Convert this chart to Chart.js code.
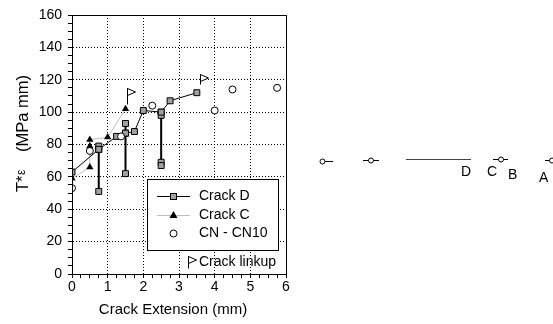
<!DOCTYPE html>
<html><head><meta charset="utf-8">
<script src="https://cdn.jsdelivr.net/npm/chart.js@4.4.0/dist/chart.umd.min.js"></script>
<style>html,body{margin:0;padding:0;background:#fff;overflow:hidden}#wrap{width:553px;height:324px;position:relative}</style>
</head><body><div id="wrap"><canvas id="c"></canvas></div>
<script>
// ---- data ----
const crackDX = [0, 0.75, 0.75, 0.75, 0.75, 1.25, 1.5, 1.5, 1.5, 1.5, 1.75, 2, 2.5, 2.5, 2.5, 2.5, 2.5, 2.75, 3.5];
const crackDY = [63, 77, 79, 51, 77, 85, 87, 93, 62, 87, 88, 101, 100, 98, 69, 67, 100, 107, 112];
const crackCX = [0, 0.5, 0.5, 0.5, 1, 1.5];
const crackCY = [59, 66, 79, 83, 84.5, 102];
const cnX = [0, 0.5, 1.375, 2.25, 4, 4.5, 5.75];
const cnY = [53, 76, 85, 104, 101, 114, 115];
const linkupX = [1.53, 3.58];
const linkupBottom = [105, 117.5];
const linkupTop = [115, 123.5];
const xMin = 0, xMax = 6, xStep = 0.25, xMajor = 1;
const yMin = 0, yMax = 160, yStep = 5, yMajor = 20;
const legendLabels = ['Crack D', 'Crack C', 'CN - CN10', 'Crack linkup'];
const xTitle = 'Crack Extension (mm)';
const yTitleParts = ['T', '*', 'ε', '(MPa mm)'];

const FONT = '"Liberation Sans", Arial, sans-serif';
const pts = (xs, ys) => xs.map((x, i) => ({x, y: ys[i]}));
const isMajor = (v, m) => Math.abs(v / m - Math.round(v / m)) < 1e-6;

function drawFlag(ctx, px, yTop, yBottom) {
  const x = Math.round(px) + 0.5, t = Math.round(yTop) + 0.5, b = Math.round(yBottom) + 0.5;
  ctx.fillStyle = '#fff'; ctx.strokeStyle = '#000'; ctx.lineWidth = 1;
  ctx.beginPath(); ctx.moveTo(x, t); ctx.lineTo(x + 8, t + 3.5); ctx.lineTo(x, t + 7); ctx.closePath(); ctx.fill(); ctx.stroke();
  ctx.beginPath(); ctx.moveTo(x, t); ctx.lineTo(x, b); ctx.stroke();
}

const deco = {
  id: 'deco',
  afterDatasetsDraw(chart) {
    const {ctx, scales: {x, y}} = chart;
    ctx.save();
    linkupX.forEach((v, i) => drawFlag(ctx, x.getPixelForValue(v), y.getPixelForValue(linkupTop[i]), y.getPixelForValue(linkupBottom[i])));
    ctx.restore();
  },
  afterDraw(chart) {
    const {ctx, chartArea: a} = chart;
    ctx.save();
    // frame
    ctx.strokeStyle = '#000'; ctx.lineWidth = 1;
    ctx.strokeRect(Math.round(a.left) + 0.5, Math.round(a.top) + 0.5, Math.round(a.right - a.left), Math.round(a.bottom - a.top));
    // legend box
    ctx.fillStyle = '#fff';
    ctx.fillRect(148, 179, 131, 71);
    ctx.strokeRect(147.5, 179.5, 131, 71);
    ctx.font = '14px ' + FONT; ctx.fillStyle = '#000'; ctx.textBaseline = 'middle'; ctx.textAlign = 'left';
    ctx.beginPath(); ctx.moveTo(157, 196.5); ctx.lineTo(190, 196.5); ctx.strokeStyle = '#000'; ctx.stroke();
    ctx.fillStyle = '#a0a0a0'; ctx.fillRect(170.5, 193.5, 6, 6); ctx.strokeRect(170.5, 193.5, 6, 6);
    ctx.fillStyle = '#000'; ctx.fillText(legendLabels[0], 199, 196);
    ctx.beginPath(); ctx.moveTo(157, 215.5); ctx.lineTo(190, 215.5); ctx.strokeStyle = '#c0c0c0'; ctx.stroke();
    ctx.fillStyle = '#000'; ctx.beginPath(); ctx.moveTo(173.5, 211); ctx.lineTo(177.5, 218); ctx.lineTo(169.5, 218); ctx.closePath(); ctx.fill();
    ctx.fillText(legendLabels[1], 199, 215);
    ctx.strokeStyle = '#000'; ctx.fillStyle = '#fff';
    ctx.beginPath(); ctx.arc(173.5, 233.5, 3.5, 0, Math.PI * 2); ctx.fill(); ctx.stroke();
    ctx.fillStyle = '#000'; ctx.fillText(legendLabels[2], 199, 233.5);
    drawFlag(ctx, 188, 256, 268);
    ctx.fillStyle = '#000'; ctx.fillText(legendLabels[3], 199, 262);
    // x title
    ctx.font = '15px ' + FONT; ctx.textAlign = 'center'; ctx.textBaseline = 'alphabetic';
    ctx.fillText(xTitle, 173, 314);
    // y title (rotated)
    ctx.save();
    ctx.translate(27.5, 134); ctx.rotate(-Math.PI / 2);
    const big = '16.5px ' + FONT, small = '12px ' + FONT;
    ctx.textAlign = 'left';
    let px = -58;
    ctx.font = big; ctx.fillText(yTitleParts[0], px, 0); px += ctx.measureText(yTitleParts[0]).width;
    ctx.fillText(yTitleParts[1], px, 0); px += ctx.measureText(yTitleParts[1]).width;
    ctx.font = small; ctx.fillText(yTitleParts[2], px + 0.5, -3);
    ctx.font = big; ctx.textAlign = 'right'; ctx.fillText(yTitleParts[3], 59, 0);
    ctx.restore();
    // stray fragments at right side
    ctx.strokeStyle = '#000'; ctx.lineWidth = 1; ctx.fillStyle = '#fff';
    const circ = (cx, cy) => { ctx.beginPath(); ctx.arc(cx, cy, 2.5, 0, Math.PI * 2); ctx.fill(); ctx.stroke(); };
    const seg = (x1, y1, x2, y2) => { ctx.beginPath(); ctx.moveTo(x1, y1); ctx.lineTo(x2, y2); ctx.stroke(); };
    seg(325, 161.5, 333, 161.5); circ(322.5, 161.5);
    seg(363, 160.5, 379, 160.5); circ(371, 160.5);
    ctx.strokeStyle = '#444'; seg(406, 159.5, 471, 159.5); ctx.strokeStyle = '#000';
    seg(493, 159.5, 508, 159.5); circ(501, 159.5);
    seg(545, 160.5, 553, 160.5); circ(552, 160.5);
    ctx.fillStyle = '#000'; ctx.font = '14px ' + FONT; ctx.textAlign = 'left'; ctx.textBaseline = 'alphabetic';
    ctx.fillText('D', 461, 176); ctx.fillText('C', 487, 176); ctx.fillText('B', 508, 179); ctx.fillText('A', 539, 182);
    ctx.restore();
  }
};

new Chart(document.getElementById('c'), {
  type: 'scatter',
  data: {
    datasets: [
      {
        label: legendLabels[0], data: pts(crackDX, crackDY), showLine: true,
        borderColor: '#000', borderWidth: 1,
        segment: { borderWidth: s => (s.p0.parsed.x === s.p1.parsed.x ? 2 : 1) },
        pointStyle: 'rect', pointRadius: 4.2, pointBackgroundColor: '#a0a0a0', pointBorderColor: '#000', pointBorderWidth: 1, order: 1
      },
      {
        label: legendLabels[1], data: pts(crackCX, crackCY), showLine: true,
        borderColor: '#c0c0c0', borderWidth: 1,
        pointStyle: 'triangle', pointRadius: 4.2, pointBackgroundColor: '#000', pointBorderColor: '#000', pointBorderWidth: 0, order: 2
      },
      {
        label: legendLabels[2], data: pts(cnX, cnY), showLine: false,
        pointStyle: 'circle', pointRadius: 3.5, pointBackgroundColor: '#fff', pointBorderColor: '#000', pointBorderWidth: 1, order: 0
      }
    ]
  },
  options: {
    responsive: true, maintainAspectRatio: false, animation: false,
    devicePixelRatio: 1,
    layout: { padding: { left: 0, top: 15, right: 267, bottom: 0 } },
    plugins: { legend: { display: false }, tooltip: { enabled: false } },
    scales: {
      x: {
        type: 'linear', min: xMin, max: xMax,
        afterFit: s => { s.height = 50; },
        ticks: { stepSize: xStep, autoSkip: false, maxRotation: 0, maxTicksLimit: 100, padding: 1, color: '#000',
          font: { family: FONT, size: 14 }, callback: v => isMajor(v, xMajor) ? String(v) : '' },
        grid: { color: c => (c.tick && isMajor(c.tick.value, xMajor) && c.tick.value > xMin && c.tick.value < xMax) ? '#000' : 'rgba(0,0,0,0)',
          tickColor: '#000', tickLength: 4, lineWidth: 1, tickWidth: 1, tickBorderDash: [] },
        border: { display: true, color: '#000', dash: [1, 2] }
      },
      y: {
        type: 'linear', min: yMin, max: yMax,
        afterFit: s => { s.width = 72; },
        ticks: { stepSize: yStep, autoSkip: false, maxTicksLimit: 100, padding: 6, color: '#000',
          font: { family: FONT, size: 14 }, callback: v => isMajor(v, yMajor) ? String(v) : '' },
        grid: { color: c => (c.tick && isMajor(c.tick.value, yMajor) && c.tick.value > yMin && c.tick.value < yMax) ? '#000' : 'rgba(0,0,0,0)',
          tickColor: '#000', tickLength: 4, lineWidth: 1, tickWidth: 1, tickBorderDash: [] },
        border: { display: true, color: '#000', dash: [1, 2] }
      }
    }
  },
  plugins: [deco]
});
</script></body></html>
